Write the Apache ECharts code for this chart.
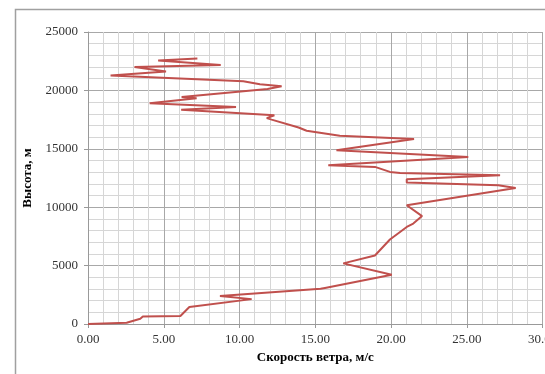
<!DOCTYPE html>
<html>
<head>
<meta charset="utf-8">
<script src="https://cdn.jsdelivr.net/npm/echarts@6/dist/echarts.min.js"></script>
<style>
html,body{margin:0;padding:0;background:#fff;}
#chart{width:545px;height:374px;}
</style>
</head>
<body>
<div id="chart"></div>
<script>
// Wind speed, m/s
var speed = [0, 2.55, 3.45, 3.62, 6.1, 6.69, 10.8, 8.71, 15.35, 15.64, 20.05, 16.85, 18.94, 19.93,
  21.04, 21.47, 22.05, 21.04, 28.23, 27.08, 21.04, 21.04, 27.2, 20.6, 19.93, 18.94, 15.86,
  25.1, 16.4, 21.52, 16.62, 14.43, 13.9, 12.12, 11.8, 12.3, 6.15, 9.77, 4.07, 7.17, 6.18,
  11.85, 12.78, 11.35, 10.25, 1.49, 5.15, 3.07, 8.76, 4.63, 7.22];
// Height, m
var height = [0, 100, 450, 640, 690, 1460, 2130, 2400, 3010, 3090, 4220, 5190, 5860, 7230,
  8310, 8600, 9240, 10170, 11650, 11880, 12110, 12400, 12740, 12930, 13020, 13450, 13590,
  14300, 14880, 15840, 16120, 16550, 16820, 17500, 17630, 17870, 18350, 18580, 18900, 19320, 19440,
  20120, 20360, 20530, 20780, 21270, 21610, 22010, 22180, 22560, 22730];
var xTicks = [0, 5, 10, 15, 20, 25, 30];
var yTicks = [0, 5000, 10000, 15000, 20000, 25000];
var xName = 'Скорость ветра, м/с';
var yName = 'Высота, м';

var pts = speed.map(function (s, i) { return [s, height[i]]; });
var font = 'Liberation Serif';

var chart = echarts.init(document.getElementById('chart'), null, {renderer: 'canvas'});
chart.setOption({
  animation: false,
  backgroundColor: '#ffffff',
  graphic: [{
    type: 'rect', left: 13, top: 7, z: -10,
    shape: {x: 0, y: 0, width: 600, height: 420},
    style: {fill: 'none', stroke: '#a0a0a0', lineWidth: 1.5}
  }],
  grid: {left: 88, right: 2.5, top: 32, bottom: 50, containLabel: false, outerBoundsMode: 'none'},
  xAxis: {
    type: 'value',
    min: xTicks[0], max: xTicks[xTicks.length - 1], interval: 5,
    name: xName, nameLocation: 'middle', nameGap: 25,
    nameTextStyle: {fontFamily: font, fontWeight: 'bold', fontSize: 13, color: '#000'},
    axisLine: {show: true, lineStyle: {color: '#999', width: 1}},
    axisTick: {show: true, inside: false, length: 4, lineStyle: {color: '#999'}},
    axisLabel: {fontFamily: font, fontSize: 13, color: '#333', margin: 9, hideOverlap: false,
      formatter: function (v) { return v.toFixed(2); }},
    splitLine: {show: true, lineStyle: {color: '#a8a8a8', width: 1}},
    minorTick: {show: false, splitNumber: 5},
    minorSplitLine: {show: true, lineStyle: {color: '#d6d6d6', width: 1}}
  },
  yAxis: {
    type: 'value',
    min: yTicks[0], max: yTicks[yTicks.length - 1], interval: 5000,
    name: yName, nameLocation: 'middle', nameGap: 54, nameRotate: 90,
    nameTextStyle: {fontFamily: font, fontWeight: 'bold', fontSize: 13, color: '#000'},
    axisLine: {show: true, lineStyle: {color: '#999', width: 1}},
    axisTick: {show: true, inside: false, length: 4, lineStyle: {color: '#999'}},
    axisLabel: {fontFamily: font, fontSize: 13, color: '#333', margin: 10,
      formatter: function (v) { return String(v); }},
    splitLine: {show: true, lineStyle: {color: '#a8a8a8', width: 1}},
    minorTick: {show: false, splitNumber: 5},
    minorSplitLine: {show: true, lineStyle: {color: '#d6d6d6', width: 1}}
  },
  series: [{
    type: 'line',
    data: pts,
    showSymbol: false,
    symbol: 'none',
    smooth: false,
    clip: true,
    lineStyle: {color: '#c0504d', width: 2}
  }]
});
</script>
</body>
</html>
